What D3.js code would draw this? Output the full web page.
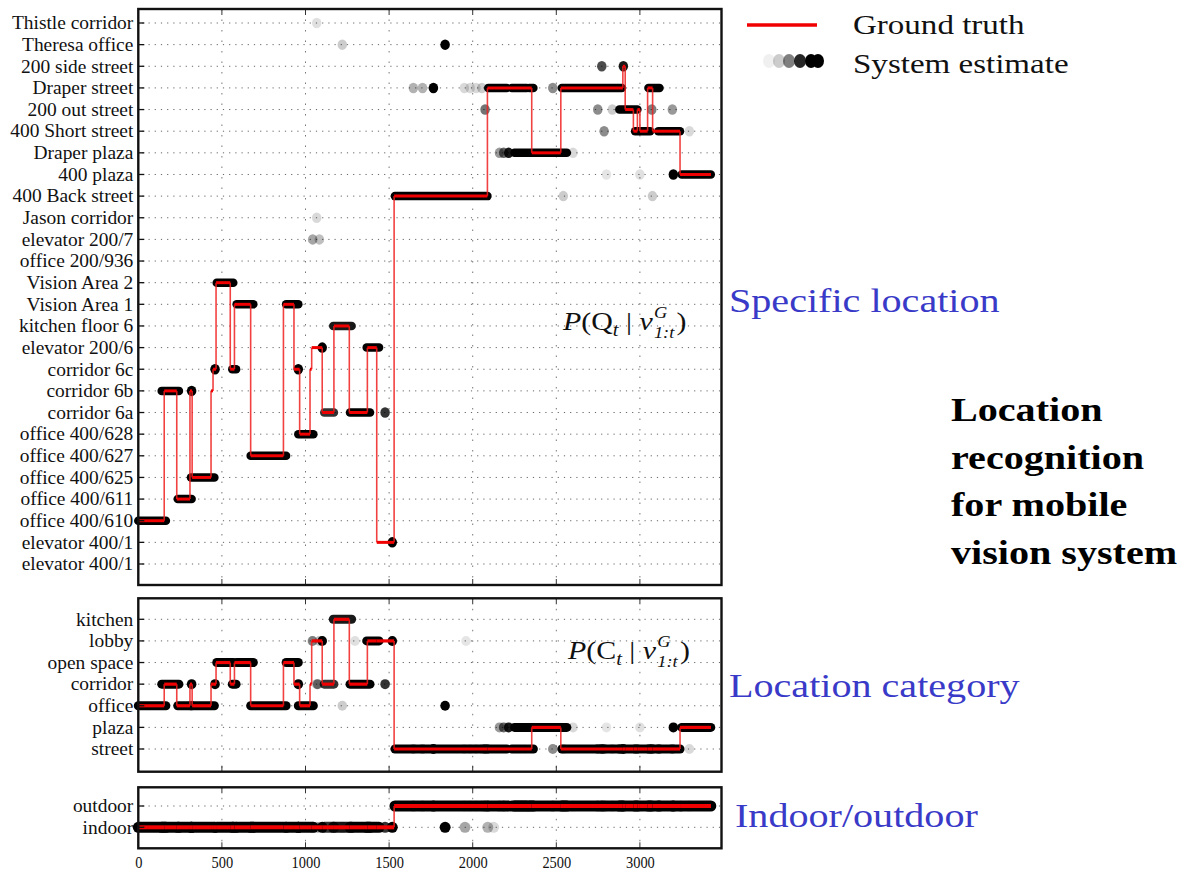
<!DOCTYPE html>
<html>
<head>
<meta charset="utf-8">
<script src="https://cdn.jsdelivr.net/npm/d3@7"></script>
<style>
  body { margin: 0; background: #fff; }
  svg { display: block; }
  text { font-family: "Liberation Serif", "Times New Roman", serif; fill: #111; }
</style>
</head>
<body>
<svg id="chart" width="1185" height="873"></svg>
<script>
// labels, top to bottom
const locationLabels = [
  "Thistle corridor", "Theresa office", "200 side street", "Draper street",
  "200 out street", "400 Short street", "Draper plaza", "400 plaza",
  "400 Back street", "Jason corridor", "elevator 200/7", "office 200/936",
  "Vision Area 2", "Vision Area 1", "kitchen floor 6", "elevator 200/6",
  "corridor 6c", "corridor 6b", "corridor 6a", "office 400/628",
  "office 400/627", "office 400/625", "office 400/611", "office 400/610",
  "elevator 400/1", "elevator 400/1"
];
const categoryLabels = ["kitchen", "lobby", "open space", "corridor", "office", "plaza", "street"];
const ioLabels = ["outdoor", "indoor"];

// location index -> category index, category index -> indoor/outdoor index
const locToCategory = [3, 4, 6, 6, 6, 6, 5, 5, 6, 3, 1, 4, 2, 2, 0, 1, 3, 3, 3, 4, 4, 4, 4, 4, 1, 1];
const categoryToIO = [1, 1, 1, 1, 1, 0, 0];

const xTicks = [0, 500, 1000, 1500, 2000, 2500, 3000];

// ground truth: [start time, location index]
const truthSteps = [
  [0, 23], [155, 17], [230, 22], [309, 17], [322, 21], [435, 17], [447, 16],
  [465, 12], [550, 16], [575, 13], [672, 20], [868, 13], [931, 16], [965, 19],
  [1027, 16], [1037, 15], [1100, 18], [1170, 14], [1262, 18], [1370, 15],
  [1426, 24], [1530, 8], [2088, 3], [2353, 6], [2527, 3], [2898, 2], [2912, 4],
  [2961, 5], [2985, 4], [3000, 5], [3046, 3], [3076, 5], [3240, 7]
];
const truthEnd = 3425;

// system estimate runs: [from, to, location index, darkness]
const estRuns = [
  [0, 165, 23, 1], [140, 243, 17, 1], [236, 319, 22, 1], [315, 455, 21, 1],
  [469, 568, 12, 1], [562, 585, 16, 1], [588, 688, 13, 1], [672, 884, 20, 1],
  [884, 957, 13, 1], [957, 1047, 19, 1], [1112, 1170, 18, 0.8], [1166, 1276, 14, 0.9],
  [1266, 1386, 18, 1], [1366, 1440, 15, 1], [1535, 2088, 8, 1],
  [2093, 2204, 3, 1], [2234, 2323, 3, 1], [2339, 2363, 3, 1],
  [2250, 2563, 6, 1], [2533, 2892, 3, 1], [2877, 2985, 4, 1], [2971, 3061, 5, 1],
  [3051, 3117, 3, 1], [3110, 3240, 5, 1], [3250, 3424, 7, 1]
];

// isolated estimate points: [time, location index, darkness]
const estDots = [
  [319, 17, 1], [459, 16, 1], [957, 16, 1], [1100, 15, 1], [1476, 18, 0.8],
  [1519, 24, 1], [1835, 1, 1], [1220, 1, 0.2], [1067, 0, 0.12],
  [1645, 3, 0.3], [1700, 3, 0.3], [1765, 3, 1], [1950, 3, 0.15], [1985, 3, 0.15],
  [2020, 3, 0.15], [2055, 3, 0.2], [2479, 3, 0.45],
  [2074, 4, 0.55], [2748, 4, 0.45], [2835, 4, 0.2], [3071, 4, 0.5], [3194, 4, 0.4],
  [2786, 5, 0.45], [3296, 5, 0.15], [2160, 6, 0.4], [2185, 6, 0.6], [2215, 6, 0.9],
  [2600, 6, 0.15], [2800, 7, 0.1], [3000, 7, 0.12], [3200, 7, 1],
  [2542, 8, 0.2], [3075, 8, 0.2], [1067, 9, 0.15], [1043, 10, 0.35], [1083, 10, 0.25],
  [2772, 2, 0.7], [2901, 2, 0.9]
];

// points seen only in the lower panels: [time, row, darkness]
const categoryExtraDots = [[1073, 3, 0.5], [1040, 1, 0.25], [1296, 1, 0.12], [1960, 1, 0.1]];
const ioExtraDots = [[1954, 1, 0.35], [2090, 1, 0.3], [2125, 1, 0.15]];

const svg = d3.select("#chart");
const x = d3.scaleLinear().domain([0, 3488]).range([138.3, 721.5]);

const panels = [
  { labels: locationLabels, map: (r) => r, extra: [], top: 9, bottom: 585,
    y: d3.scaleLinear().domain([0, 25]).range([23, 564]), est: 8.5, bump: 1, red: 3 },
  { labels: categoryLabels, map: (r) => locToCategory[r], extra: categoryExtraDots, top: 598.3, bottom: 771.7,
    y: d3.scaleLinear().domain([0, 6]).range([619.3, 749]), est: 9, bump: 0.5, red: 3.2 },
  { labels: ioLabels, map: (r) => categoryToIO[locToCategory[r]], extra: ioExtraDots, top: 787.3, bottom: 848.3,
    y: d3.scaleLinear().domain([0, 1]).range([806, 827.3]), est: 11, bump: 0, red: 4 }
];

panels.forEach((p) => {
  const g = svg.append("g");
  const x0 = x.range()[0], x1 = x.range()[1];

  // dotted grid
  g.append("g").selectAll("line").data(d3.range(p.labels.length)).join("line")
    .attr("x1", x0 + 4).attr("x2", x1)
    .attr("y1", (d) => p.y(d)).attr("y2", (d) => p.y(d))
    .attr("stroke", "#666").attr("stroke-width", 1).attr("stroke-dasharray", "1.2,5");
  g.append("g").selectAll("line").data(xTicks.slice(1)).join("line")
    .attr("x1", (d) => x(d)).attr("x2", (d) => x(d))
    .attr("y1", p.top).attr("y2", p.bottom)
    .attr("stroke", "#777").attr("stroke-width", 1).attr("stroke-dasharray", "1.5,9");

  // system estimate
  g.append("g").selectAll("line").data(estRuns).join("line")
    .attr("x1", (d) => x(d[0])).attr("x2", (d) => x(d[1]))
    .attr("y1", (d) => p.y(p.map(d[2]))).attr("y2", (d) => p.y(p.map(d[2])))
    .attr("stroke", "#000").attr("stroke-opacity", (d) => d[3])
    .attr("stroke-width", p.est).attr("stroke-linecap", "round");
  const dots = estDots.map((d) => [d[0], p.map(d[1]), d[2]]).concat(p.extra);
  g.append("g").selectAll("ellipse").data(dots).join("ellipse")
    .attr("cx", (d) => x(d[0])).attr("cy", (d) => p.y(d[1]))
    .attr("rx", p.est / 2 + p.bump / 2).attr("ry", p.est / 2 + p.bump)
    .attr("fill", "#000").attr("fill-opacity", (d) => d[2]);

  // ground truth
  const steps = truthSteps.map((s, i) => ({
    t0: s[0], t1: i + 1 < truthSteps.length ? truthSteps[i + 1][0] : truthEnd,
    row: p.map(s[1]), next: i + 1 < truthSteps.length ? p.map(truthSteps[i + 1][1]) : null
  }));
  g.append("g").selectAll("line").data(steps.filter((s) => s.next !== null && s.next !== s.row)).join("line")
    .attr("x1", (d) => x(d.t1)).attr("x2", (d) => x(d.t1))
    .attr("y1", (d) => p.y(d.row)).attr("y2", (d) => p.y(d.next))
    .attr("stroke", "#f02020").attr("stroke-opacity", 0.85).attr("stroke-width", 1.6);
  g.append("g").selectAll("line").data(steps).join("line")
    .attr("x1", (d) => x(d.t0)).attr("x2", (d) => x(d.t1))
    .attr("y1", (d) => p.y(d.row)).attr("y2", (d) => p.y(d.row))
    .attr("stroke", "#f00000").attr("stroke-width", p.red);

  // inward ticks
  g.append("g").selectAll("line").data(d3.range(p.labels.length)).join("line")
    .attr("x1", x0).attr("x2", x0 + 6)
    .attr("y1", (d) => p.y(d)).attr("y2", (d) => p.y(d))
    .attr("stroke", "#111").attr("stroke-width", 1.3);
  [p.top, p.bottom].forEach((yy, k) => {
    g.append("g").selectAll("line").data(xTicks.slice(1)).join("line")
      .attr("x1", (d) => x(d)).attr("x2", (d) => x(d))
      .attr("y1", yy).attr("y2", k === 0 ? yy + 6 : yy - 6)
      .attr("stroke", "#333").attr("stroke-width", 1);
  });

  // frame
  g.append("rect").attr("x", x0).attr("y", p.top)
    .attr("width", x1 - x0).attr("height", p.bottom - p.top)
    .attr("fill", "none").attr("stroke", "#111").attr("stroke-width", 2.4);

  // row labels
  const axis = svg.append("g").attr("transform", `translate(${x0},0)`)
    .call(d3.axisLeft(p.y).tickValues(d3.range(p.labels.length))
      .tickFormat((i) => p.labels[i]).tickSize(0).tickPadding(5));
  axis.select(".domain").remove();
  axis.selectAll("text")
    .attr("font-family", null).attr("font-size", null)
    .style("font-size", "18px").attr("x", -5 / 1.08).attr("dy", "0.32em")
    .attr("transform", "scale(1.08,1)");
});

// time axis labels
const xAxis = svg.append("g").attr("transform", "translate(0,848.3)")
  .call(d3.axisBottom(x).tickValues(xTicks).tickFormat(d3.format("d")).tickSize(0));
xAxis.select(".domain").remove();
xAxis.selectAll("text").attr("font-family", null).attr("font-size", null)
  .style("font-size", "16px").attr("y", 20).attr("dy", 0)
  .attr("transform", "scale(0.9,1)");

// probability annotations
function annotation(px, py, letter) {
  const g = svg.append("g").attr("transform", `translate(${px},${py}) scale(1.15,1)`);
  const t = g.append("text").style("font-size", "26px");
  t.append("tspan").attr("font-style", "italic").text("P");
  t.append("tspan").text("(" + letter);
  t.append("tspan").attr("font-style", "italic").style("font-size", "18px").attr("dy", 6).text("t");
  t.append("tspan").attr("dy", -6).text(" | ");
  t.append("tspan").attr("font-style", "italic").text("v");
  const w = t.node().getComputedTextLength();
  g.append("text").attr("x", w + 1).attr("y", -12).attr("font-style", "italic")
    .style("font-size", "16px").text("G");
  const sub = g.append("text").attr("x", w + 1).attr("y", 8).attr("font-style", "italic")
    .style("font-size", "16px").text("1:t");
  const w2 = sub.node().getComputedTextLength();
  g.append("text").attr("x", w + w2 + 3).style("font-size", "26px").text(")");
}
annotation(563, 330, "Q");
annotation(568, 659, "C");

// legend
svg.append("line").attr("x1", 747).attr("x2", 817).attr("y1", 25).attr("y2", 25)
  .attr("stroke", "#f00000").attr("stroke-width", 3.5);
const legendDots = [[769, 0.06], [779, 0.2], [789, 0.5], [800, 0.85], [811, 1], [818, 1]];
svg.append("g").selectAll("ellipse").data(legendDots).join("ellipse")
  .attr("cx", (d) => d[0]).attr("cy", 61).attr("rx", 6).attr("ry", 7)
  .attr("fill", "#000").attr("fill-opacity", (d) => d[1]);

function stretched(str, px, py, size, opts = {}) {
  svg.append("text").attr("transform", `translate(${px},${py}) scale(1.18,1)`)
    .style("font-size", size + "px")
    .style("font-weight", opts.bold ? "bold" : null)
    .style("fill", opts.color || "#111")
    .text(str);
}
stretched("Ground truth", 853, 34, 28);
stretched("System estimate", 853, 73, 28);

const blue = "#3a3ac8";
stretched("Specific location", 729, 312, 34, { color: blue });
stretched("Location category", 729, 697, 34, { color: blue });
stretched("Indoor/outdoor", 735, 827, 34, { color: blue });

const titleLines = ["Location", "recognition", "for mobile", "vision system"];
titleLines.forEach((s, i) => stretched(s, 951, 421 + i * 47.5, 34, { bold: true, color: "#000" }));
</script>
</body>
</html>
